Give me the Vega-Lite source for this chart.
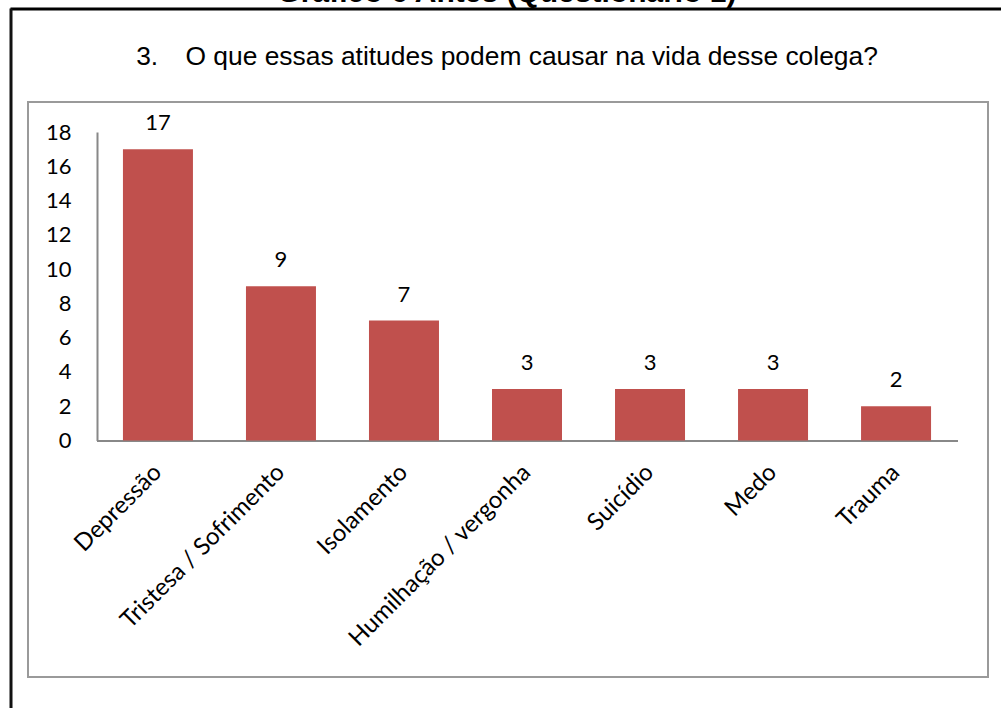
{
  "$schema": "https://vega.github.io/schema/vega-lite/v6.json",
  "width": 960,
  "height": 575,
  "autosize": {"type": "none"},
  "padding": {"left": 28, "top": 102, "right": 13, "bottom": 31},
  "background": "white",
  "title": {
    "text": "Gráfico 6 Antes (Questionário 1)",
    "subtitle": "3.\u00a0\u00a0\u00a0\u2009O que essas atitudes podem causar na vida desse colega?",
    "font": "Liberation Sans",
    "fontSize": 30,
    "fontWeight": "bold",
    "color": "black",
    "subtitleFont": "Liberation Sans",
    "subtitleFontSize": 26.4,
    "subtitleColor": "black",
    "anchor": "middle",
    "frame": "group",
    "dx": -1,
    "offset": -65,
    "subtitlePadding": 36
  },
  "config": {
    "view": {"stroke": "#9a9a9a", "strokeWidth": 2}
  },
  "data": {
    "values": [
      {"causa": "Depressão", "n": 17},
      {"causa": "Tristesa / Sofrimento", "n": 9},
      {"causa": "Isolamento", "n": 7},
      {"causa": "Humilhação / vergonha", "n": 3},
      {"causa": "Suicídio", "n": 3},
      {"causa": "Medo", "n": 3},
      {"causa": "Trauma", "n": 2}
    ]
  },
  "layer": [
    {
      "encoding": {
        "x": {
          "field": "causa",
          "type": "nominal",
          "sort": null,
          "scale": {"range": [68.5, 929.5], "paddingInner": 0.431, "paddingOuter": 0.215},
          "axis": {
            "orient": "bottom",
            "title": null,
            "offset": -236.5,
            "domainColor": "#888888",
            "domainWidth": 2,
            "ticks": false,
            "tickSize": 0,
            "labelAngle": -45,
            "labelAlign": "right",
            "labelBaseline": "middle",
            "labelPadding": 28,
            "labelLimit": 0,
            "labelFont": "Lato",
            "labelFontSize": 24,
            "labelColor": "black",
            "grid": false
          }
        },
        "y": {
          "field": "n",
          "type": "quantitative",
          "scale": {"domain": [0, 18], "range": [338.5, 30], "nice": false},
          "axis": {
            "orient": "left",
            "title": null,
            "offset": -69,
            "values": [0, 2, 4, 6, 8, 10, 12, 14, 16, 18],
            "domainColor": "#888888",
            "domainWidth": 2,
            "ticks": false,
            "tickSize": 0,
            "labelPadding": 26,
            "labelFont": "Lato",
            "labelFontSize": 22,
            "labelColor": "black",
            "grid": false
          }
        }
      },
      "layer": [
        {"mark": {"type": "bar", "color": "#C0504D"}},
        {
          "mark": {"type": "text", "baseline": "alphabetic", "dy": -19, "font": "Lato", "fontSize": 22, "color": "black"},
          "encoding": {"text": {"field": "n", "type": "quantitative"}}
        }
      ]
    },
    {
      "mark": {"type": "point", "opacity": 0},
      "encoding": {
        "x": {
          "field": "n",
          "type": "quantitative",
          "scale": {"domain": [0, 1], "range": [-18, 1000], "clamp": true},
          "axis": {"orient": "top", "offset": 93.5, "domainColor": "#000000", "domainWidth": 3, "ticks": false, "labels": false, "title": null, "grid": false}
        },
        "y": {
          "field": "n",
          "type": "quantitative",
          "scale": {"domain": [0, 1], "range": [700, -94], "clamp": true},
          "axis": {"orient": "left", "offset": 17.5, "domainColor": "#111111", "domainWidth": 3, "ticks": false, "labels": false, "title": null, "grid": false}
        }
      }
    }
  ],
  "resolve": {
    "scale": {"x": "independent", "y": "independent"},
    "axis": {"x": "independent", "y": "independent"}
  }
}
